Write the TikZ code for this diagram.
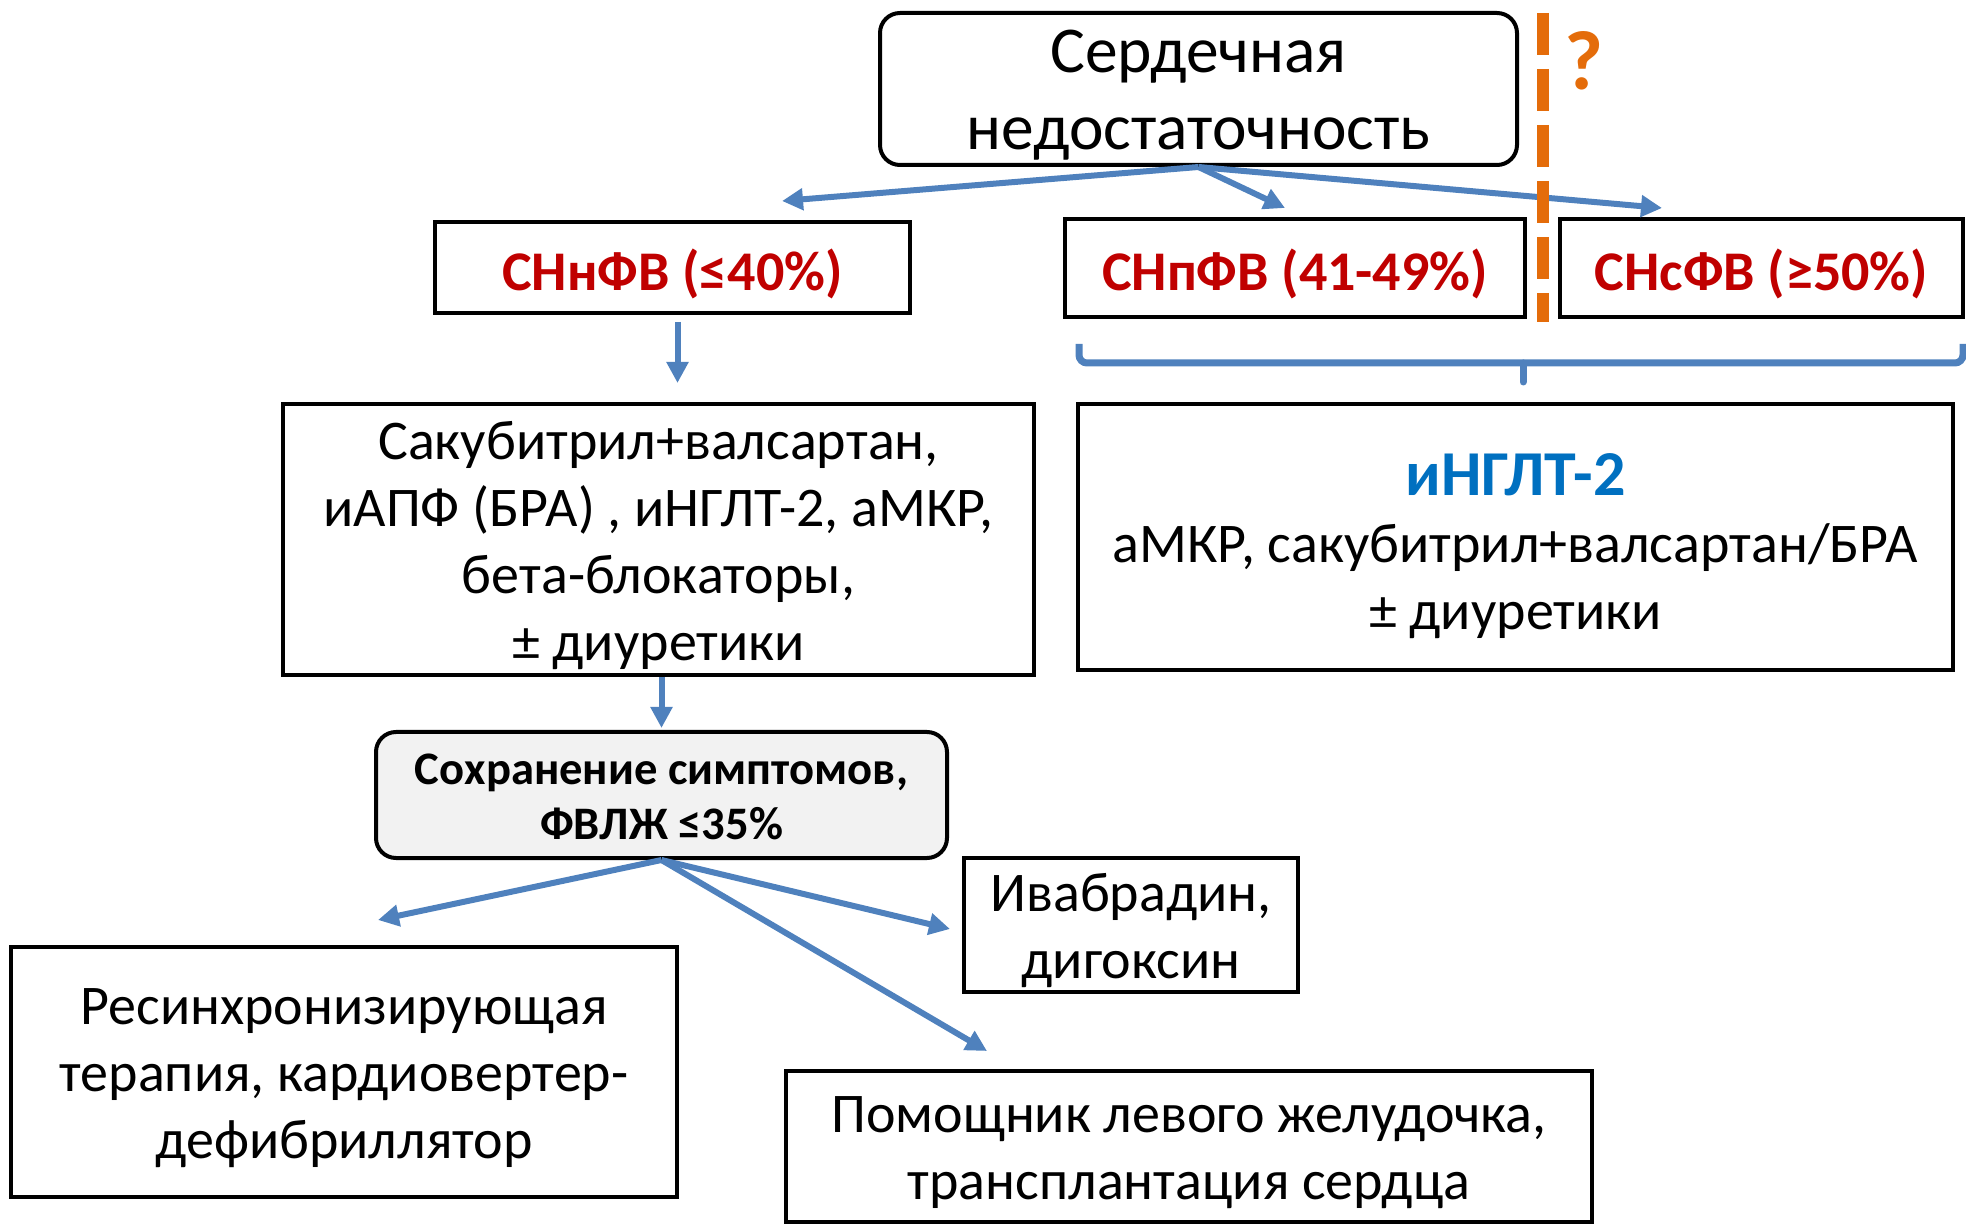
\documentclass[tikz,border=0pt]{standalone}
\usepackage{fontspec}
\setmainfont{Carlito}
\usetikzlibrary{arrows.meta,positioning}
\definecolor{arrowBlue}{HTML}{4F81BD}
\definecolor{hfRed}{HTML}{C00000}
\definecolor{drugBlue}{HTML}{0070C0}
\definecolor{qOrange}{HTML}{E46C0A}
\definecolor{boxGray}{HTML}{F2F2F2}
\tikzset{
  box/.style={draw=black,line width=2pt,fill=white,inner sep=0pt},
  rbox/.style={box,rounded corners=10pt},
  txt/.style={align=center,yshift=-3pt,font=\fontsize{28}{33.5}\selectfont},
  eftxt/.style={txt,text=hfRed,font=\bfseries\fontsize{28}{33.5}\selectfont},
  arr/.style={draw=arrowBlue,line width=3pt,-{Triangle[length=10.5pt,width=10.5pt]}},
  brace/.style={draw=arrowBlue,line width=3.5pt,rounded corners=4pt},
}

\begin{document}
\begin{tikzpicture}[x=0.5pt,y=-0.5pt]
    \useasboundingbox (0,0) rectangle (1966,1224);

    \node[rbox,minimum width=318.5pt,minimum height=76pt,
      label={[txt,font=\fontsize{32.7}{38.5}\selectfont]center:Сердечная\\недостаточность}] (hf) at (1198.5,89) {};

    \node[box,minimum width=237.5pt,minimum height=45.5pt,label={[eftxt]center:СНнФВ (≤40\%)}] (rEF) at (672.5,267.5) {};
    \node[box,minimum width=230pt,minimum height=49pt,label={[eftxt]center:СНпФВ (41-49\%)}] (mrEF) at (1295,268) {};
    \node[box,minimum width=201.5pt,minimum height=49pt,label={[eftxt]center:СНсФВ (≥50\%)}] (pEF) at (1761.5,268) {};

    \node[box,minimum width=375.5pt,minimum height=135.5pt,
      label={[txt]center:Сакубитрил+валсартан,\\иАПФ (БРА) , иНГЛТ-2, аМКР,\\бета-блокаторы,\\± диуретики}] (trtA) at (658.5,539.5) {};
    \node[box,minimum width=437.5pt,minimum height=133pt,
      label={[txt,yshift=-1.5pt]center:{\bfseries\color{drugBlue}\fontsize{32}{36}\selectfont иНГЛТ-2}\\аМКР, сакубитрил+валсартан/БРА\\± диуретики}] (trtB) at (1515.5,537) {};

    \node[rbox,fill=boxGray,minimum width=285.5pt,minimum height=63pt,
      label={[txt,yshift=2pt,font=\bfseries\fontsize{23.3}{27.5}\selectfont]center:Сохранение симптомов,\\ФВЛЖ ≤35\%}] (sympt) at (661.5,795) {};

    \node[box,minimum width=167pt,minimum height=67pt,label={[txt]center:Ивабрадин,\\дигоксин}] (ivab) at (1131,925) {};
    \node[box,minimum width=333pt,minimum height=125pt,
      label={[txt]center:Ресинхронизирующая\\терапия, кардиовертер-\\дефибриллятор}] (crt) at (344,1072) {};
    \node[box,minimum width=403pt,minimum height=75.5pt,
      label={[txt]center:Помощник левого желудочка,\\трансплантация сердца}] (lvad) at (1189,1146.5) {};

    % free arrow ends
    \coordinate (toRef) at (782,201);
    \coordinate (toMr) at (1285,208);
    \coordinate (toP) at (1662,208);
    \coordinate (toCrt) at (378,920);
    \coordinate (toIvab) at (950,929);
    \coordinate (toLvad) at (987,1051);

    \draw[arr] (hf.south) -- (toRef);
    \draw[arr] (hf.south) -- (toMr);
    \draw[arr] (hf.south) -- (toP);

    \draw[arr,shorten <=3.5pt,shorten >=9.5pt] ([xshift=2.5pt]rEF.south) -- ([xshift=2.5pt]rEF.south |- trtA.north);
    \draw[arr,shorten >=1pt] ([xshift=1.5pt]trtA.south) -- ([xshift=1.5pt]trtA.south |- sympt.north);

    \draw[arr] (sympt.south) -- (toCrt);
    \draw[arr] (sympt.south) -- (toIvab);
    \draw[arr] (sympt.south) -- (toLvad);

    % brace under the two right groups
    \coordinate (brL) at (1079,344);
    \coordinate (brM) at (1523,363);
    \coordinate (brR) at (1963,344);
    \draw[brace] (brL) |- (brM) -| (brR);
    \draw[draw=arrowBlue,line width=3.5pt,line cap=round] (brM) -- ++(0,19);

    \draw[qOrange,line width=6pt,dash pattern=on 21pt off 7pt] (1543,13) -- (1543,322);
    \node[text=qOrange,font=\bfseries\fontsize{42}{42}\selectfont] (q) at (1584,61) {?};
\end{tikzpicture}
\end{document}
